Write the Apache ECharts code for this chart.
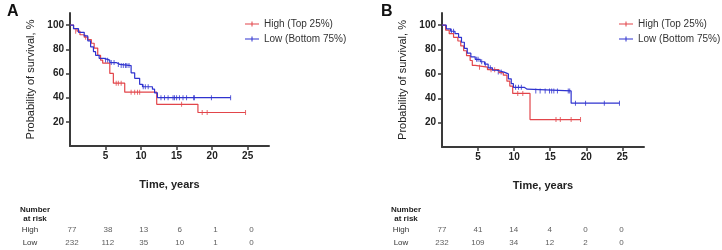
<!DOCTYPE html>
<html>
<head>
<meta charset="utf-8">
<script src="https://cdn.jsdelivr.net/npm/echarts@6/dist/echarts.min.js"></script>
<style>
html, body { margin: 0; padding: 0; background: #fff; }
#chart { width: 722px; height: 250px; }
</style>
</head>
<body>
<div id="chart"></div>
<script>
// axis ticks
const xTicks = [5, 10, 15, 20, 25];
const yTicks = [20, 40, 60, 80, 100];
const riskTimes = [0, 5, 10, 15, 20, 25];
const riskRows = ['High', 'Low'];
const highName = 'High (Top 25%)';
const lowName = 'Low (Bottom 75%)';

// panel A - steps are [years, survival %], censors are [years, survival %]
const highStepsA = [[0, 100], [0.5, 97], [1.0, 95], [1.4, 92], [2.0, 90], [2.5, 88], [3.0, 85], [3.4, 81], [3.9, 75], [4.3, 71],
    [4.6, 68.5], [5.6, 60], [6.1, 52], [7.7, 44.5], [12.2, 34.5], [18.0, 27.7], [24.7, 27.7]];
const highCensorA = [[0.8, 95], [2.2, 90], [6.5, 52], [6.8, 52], [7.2, 52], [8.6, 44.5], [9.1, 44.5], [9.5, 44.5], [9.8, 44.5],
    [15.7, 34.5], [18.6, 27.7], [19.3, 27.7], [24.7, 27.7]];
const lowStepsA = [[0, 100], [0.5, 97], [1.2, 94], [2.0, 91], [2.5, 87], [2.9, 82], [3.3, 78], [3.6, 75], [4.1, 72.5], [4.8, 71],
    [5.6, 69], [6.5, 67.5], [7.0, 66.5], [8.6, 60.5], [9.1, 56], [9.8, 51], [10.2, 49], [11.6, 47], [11.9, 44], [12.3, 40], [22.6, 40]];
const lowCensorA = [[5.0, 71], [5.3, 71], [5.8, 69], [6.2, 69], [6.8, 67.5], [7.2, 66.5], [7.5, 66.5], [7.8, 66.5], [8.0, 66.5],
    [8.3, 66.5], [10.3, 49], [10.6, 49], [11.0, 49], [12.8, 40], [13.3, 40], [13.8, 40], [14.5, 40], [14.7, 40], [15.0, 40],
    [15.4, 40], [15.9, 40], [16.4, 40], [17.4, 40], [17.5, 40], [19.9, 40], [22.6, 40]];
const highRiskA = [77, 38, 13, 6, 1, 0];
const lowRiskA = [232, 112, 35, 10, 1, 0];

// panel B
const highStepsB = [[0, 100], [0.5, 96], [1.0, 93], [1.6, 90], [2.2, 87], [2.6, 83], [3.0, 79], [3.4, 75], [3.9, 71], [4.2, 67],
    [4.6, 65.5], [6.3, 63.5], [7.9, 61], [8.5, 59], [9.0, 54], [9.4, 50], [9.8, 44], [12.2, 22.5], [19.2, 22.5]];
const highCensorB = [[5.2, 65.5], [6.8, 63.5], [7.3, 63.5], [10.5, 44], [11.2, 44], [15.8, 22.5], [16.4, 22.5], [17.9, 22.5], [19.2, 22.5]];
const lowStepsB = [[0, 100], [0.6, 97], [1.2, 95], [1.8, 93], [2.3, 90], [2.7, 86], [3.1, 81], [3.5, 77], [4.0, 74], [4.6, 72],
    [5.3, 70], [5.9, 68], [6.4, 65], [7.0, 63], [7.6, 61.5], [8.6, 60], [9.2, 56], [9.6, 52], [9.9, 49], [11.4, 47.5], [11.8, 46],
    [17.9, 36], [24.6, 36]];
const lowCensorB = [[1.3, 95], [1.6, 95], [4.8, 72], [5.0, 72], [5.5, 70], [6.0, 68], [6.7, 65], [7.8, 61.5], [8.2, 61.5],
    [10.2, 49], [10.6, 49], [11.0, 49], [13.0, 46], [13.6, 46], [14.3, 46], [14.9, 46], [15.2, 46], [15.5, 46], [16.0, 46],
    [17.5, 46], [17.7, 46], [18.5, 36], [19.9, 36], [22.5, 36], [24.6, 36]];
const highRiskB = [77, 41, 14, 4, 0, 0];
const lowRiskB = [232, 109, 34, 12, 2, 0];

const RED = '#e2454a';
const BLUE = '#2f33cf';
const AXIS = '#3a3a3a';
const FONT = 'Liberation Sans, Arial, sans-serif';
const legendIcon = 'path://M0,3H14V4H0Z M6.5,1H7.5V6H6.5Z';

let grid = [], xAxis = [], yAxis = [], series = [], legend = [], title = [];

function addPanel(p) {
    const g = grid.length;
    grid.push({ left: p.left, top: 13, width: p.width, height: p.height });
    grid.push({ left: p.tableLeft, top: 223, width: p.tableWidth, height: 28 });

    xAxis.push({
        type: 'value', gridIndex: g, min: 0, max: 28,
        name: 'Time, years', nameLocation: 'middle', nameGap: 33,
        nameTextStyle: { color: '#222', fontSize: 11, fontWeight: 'bold', fontFamily: FONT },
        axisLine: { lineStyle: { color: AXIS, width: 2 } },
        axisTick: { show: true, length: 4, customValues: xTicks, lineStyle: { color: AXIS, width: 1.5 } },
        axisLabel: { customValues: xTicks, color: '#222', fontSize: 10, fontWeight: 'bold', fontFamily: FONT, margin: 5 },
        splitLine: { show: false }
    });
    xAxis.push({ type: 'value', gridIndex: g + 1, min: 0, max: 28, show: false });

    yAxis.push({
        type: 'value', gridIndex: g, min: 0, max: 110,
        name: 'Probability of survival, %', nameLocation: 'middle', nameGap: 34,
        nameTextStyle: { color: '#222', fontSize: 11, fontFamily: FONT },
        axisLine: { lineStyle: { color: AXIS, width: 2 } },
        axisTick: { show: true, length: 4, customValues: yTicks, lineStyle: { color: AXIS, width: 1.5 } },
        axisLabel: { customValues: yTicks, color: '#222', fontSize: 10, fontWeight: 'bold', fontFamily: FONT, margin: 6 },
        splitLine: { show: false }
    });
    yAxis.push({
        type: 'category', gridIndex: g + 1, data: riskRows, inverse: true,
        axisLine: { show: false }, axisTick: { show: false },
        axisLabel: { margin: p.tableLeft - p.rowCenter, align: 'center', color: '#333', fontSize: 8, fontFamily: FONT }
    });

    const curves = [
        [highName, RED, p.highSteps, p.highCensor, p.highRisk, 'High'],
        [lowName, BLUE, p.lowSteps, p.lowCensor, p.lowRisk, 'Low']
    ];
    curves.forEach(([name, color, steps, censor, risk, row]) => {
        series.push({
            name: name, type: 'line', step: 'end', xAxisIndex: g, yAxisIndex: g,
            data: steps, color: color, showSymbol: false, symbol: 'none',
            lineStyle: { width: 1.2, color: color }
        });
        series.push({
            name: name, type: 'scatter', xAxisIndex: g, yAxisIndex: g,
            data: censor, symbol: 'rect', symbolSize: [1, 5], color: color,
            itemStyle: { color: color }
        });
        series.push({
            type: 'scatter', xAxisIndex: g + 1, yAxisIndex: g + 1,
            data: riskTimes.map((t, i) => [t, row, risk[i]]),
            symbolSize: 0,
            label: {
                show: true, position: 'inside', formatter: d => d.value[2],
                color: '#333', fontSize: 8, fontFamily: FONT
            }
        });
    });

    legend.push({
        data: [highName, lowName], orient: 'vertical', left: p.legendLeft, top: 14,
        itemWidth: 14, itemHeight: 6, itemGap: 5, icon: legendIcon, selectedMode: false,
        textStyle: { color: '#333', fontSize: 10, fontFamily: FONT }
    });

    title.push({
        text: p.letter, left: p.letterLeft, top: -1,
        textStyle: { fontSize: 16, fontWeight: 'bold', color: '#111', fontFamily: FONT }
    });
    title.push({
        text: 'Number\nat risk', left: p.rowCenter, top: 200, textAlign: 'center',
        textStyle: { fontSize: 8, fontWeight: 'bold', color: '#222', lineHeight: 9, fontFamily: FONT }
    });
}

addPanel({
    letter: 'A', letterLeft: 2, left: 70, width: 199, height: 133, tableLeft: 72, tableWidth: 201,
    rowCenter: 30, legendLeft: 240,
    highSteps: highStepsA, highCensor: highCensorA, lowSteps: lowStepsA, lowCensor: lowCensorA,
    highRisk: highRiskA, lowRisk: lowRiskA
});
addPanel({
    letter: 'B', letterLeft: 376, left: 442, width: 202, height: 134, tableLeft: 442, tableWidth: 201,
    rowCenter: 401, legendLeft: 614,
    highSteps: highStepsB, highCensor: highCensorB, lowSteps: lowStepsB, lowCensor: lowCensorB,
    highRisk: highRiskB, lowRisk: lowRiskB
});

const chart = echarts.init(document.getElementById('chart'));
chart.setOption({
    animation: false,
    backgroundColor: '#fff',
    title: title,
    legend: legend,
    grid: grid,
    xAxis: xAxis,
    yAxis: yAxis,
    series: series
});
</script>
</body>
</html>
